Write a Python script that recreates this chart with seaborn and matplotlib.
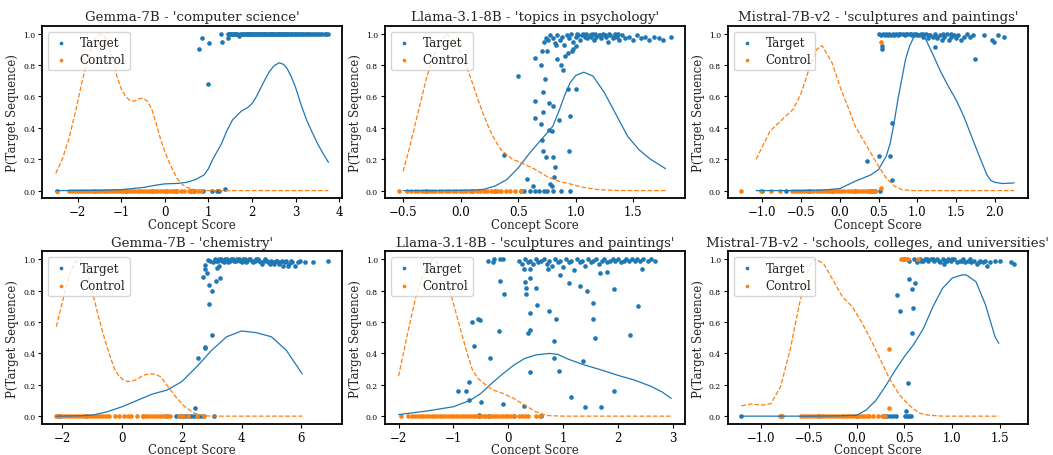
import matplotlib
matplotlib.use("Agg")
import matplotlib.pyplot as plt
import seaborn as sns

titles = [
    "Gemma-7B - 'computer science'",
    "Llama-3.1-8B - 'topics in psychology'",
    "Mistral-7B-v2 - 'sculptures and paintings'",
    "Gemma-7B - 'chemistry'",
    "Llama-3.1-8B - 'sculptures and paintings'",
    "Mistral-7B-v2 - 'schools, colleges, and universities'",
]

# ---- panel 1: Gemma-7B computer science ----
p1_target = [(0.79, 0.90), (0.85, 0.97), (0.99, 0.68), (1.01, 0.94), (1.29, 1.0), (1.32, 0.945),
             (1.37, 0.01), (1.44, 0.97), (1.44, 1.0), (1.47, 1.0), (1.50, 1.0), (1.53, 1.0), (1.55, 1.0),
             (1.58, 1.0), (1.61, 1.0), (1.64, 1.0), (1.66, 1.0), (1.70, 0.985), (1.72, 1.0), (1.76, 1.0),
             (1.79, 1.0), (1.81, 1.0), (1.85, 1.0), (1.88, 1.0), (1.90, 1.0), (1.93, 1.0), (1.95, 1.0),
             (1.98, 1.0), (2.00, 1.0), (2.03, 1.0), (2.05, 1.0), (2.08, 1.0), (2.10, 1.0), (2.13, 1.0),
             (2.15, 1.0), (2.18, 1.0), (2.20, 1.0), (2.23, 1.0), (2.25, 1.0), (2.28, 1.0), (2.30, 1.0),
             (2.33, 1.0), (2.36, 1.0), (2.39, 1.0), (2.41, 1.0), (2.44, 1.0), (2.46, 1.0), (2.49, 1.0),
             (2.51, 1.0), (2.54, 1.0), (2.56, 1.0), (2.59, 1.0), (2.62, 1.0), (2.65, 1.0), (2.67, 1.0),
             (2.70, 1.0), (2.72, 1.0), (2.75, 1.0), (2.78, 1.0), (2.81, 1.0), (2.83, 1.0), (2.86, 1.0),
             (2.89, 1.0), (2.92, 1.0), (2.95, 1.0), (2.98, 1.0), (3.01, 1.0), (3.04, 1.0), (3.07, 1.0),
             (3.10, 1.0), (3.14, 1.0), (3.17, 1.0), (3.21, 1.0), (3.25, 1.0), (3.29, 1.0), (3.33, 1.0),
             (3.38, 1.0), (3.42, 1.0), (3.47, 1.0), (3.52, 1.0), (3.56, 1.0), (3.61, 1.0), (3.66, 1.0),
             (3.70, 1.0), (3.75, 1.0)]
p1_target_floor = [-2.47, -1.6, -0.9, -0.3, 0.02, 0.25, 0.59, 0.67, 0.88, 1.07, 1.20, 1.25]
p1_control = []
p1_control_floor = [-2.47, -2.19, -2.13, -2.06, -1.99, -1.93, -1.86, -1.8, -1.73, -1.67, -1.6,
                    -1.53, -1.47, -1.4, -1.34, -1.27, -1.21, -1.14, -1.08, -1.01, -0.95, -0.88,
                    -0.82, -0.75, -0.69, -0.62, -0.56, -0.49, -0.43, -0.36, -0.3, -0.23, -0.17,
                    -0.1, -0.04, 0.03, 0.09, 0.16, 0.22, 0.29, 0.36, 0.45, 0.55, 0.64, 0.76, 0.82]
p1_target_kde = [(-2.5, 0.0), (-1.5, 0.002), (-1.0, 0.006), (-0.5, 0.02), (-0.2, 0.035), (0.0, 0.043),
                 (0.3, 0.046), (0.5, 0.053), (0.7, 0.07), (0.9, 0.10), (1.0, 0.14), (1.1, 0.20),
                 (1.2, 0.25), (1.3, 0.30), (1.42, 0.38), (1.55, 0.45), (1.75, 0.506), (1.9, 0.53),
                 (2.0, 0.555), (2.1, 0.60), (2.2, 0.655), (2.3, 0.71), (2.4, 0.76), (2.5, 0.795),
                 (2.62, 0.815), (2.72, 0.805), (2.8, 0.78), (2.9, 0.725), (3.0, 0.655), (3.12, 0.55),
                 (3.25, 0.45), (3.38, 0.37), (3.5, 0.30), (3.62, 0.24), (3.75, 0.18)]
p1_control_kde = [(-2.5, 0.11), (-2.35, 0.2), (-2.2, 0.33), (-2.05, 0.5), (-1.9, 0.69), (-1.8, 0.8),
                  (-1.7, 0.9), (-1.6, 0.97), (-1.5, 1.0), (-1.4, 0.99), (-1.3, 0.94), (-1.2, 0.85),
                  (-1.1, 0.73), (-1.0, 0.65), (-0.9, 0.6), (-0.8, 0.575), (-0.7, 0.57), (-0.6, 0.585),
                  (-0.5, 0.59), (-0.4, 0.57), (-0.3, 0.52), (-0.2, 0.43), (-0.1, 0.33), (0.0, 0.25),
                  (0.1, 0.18), (0.2, 0.12), (0.3, 0.07), (0.4, 0.04), (0.5, 0.02), (0.7, 0.005),
                  (1.0, 0.0), (2.0, 0.0), (3.0, 0.0), (3.75, 0.0)]

# ---- panel 2: Llama-3.1-8B topics in psychology ----
p2_target = [(0.38, 0.225), (0.50, 0.73), (0.575, 0.077), (0.627, 0.028), (0.642, 0.847), (0.647, 0.574),
             (0.642, 0.46), (0.70, 0.80), (0.70, 0.425), (0.705, 0.325), (0.714, 0.627), (0.714, 0.50),
             (0.714, 0.255), (0.734, 0.71), (0.743, 0.213), (0.77, 0.56), (0.77, 0.385), (0.78, 0.043),
             (0.79, 0.38), (0.79, 0.032), (0.806, 0.54), (0.806, 0.213), (0.81, 0.087), (0.82, 0.15),
             (0.835, 0.836), (0.858, 0.453), (0.873, 0.80), (0.887, 0.77), (0.907, 0.86), (0.936, 0.645),
             (0.945, 0.25), (0.95, 0.475), (0.965, 0.89), (0.98, 0.90), (1.0, 0.65), (1.0, 0.92),
             (0.705, 0.89), (0.75, 0.89), (0.72, 0.95), (0.74, 0.97), (0.76, 0.96), (0.78, 0.99),
             (0.80, 0.97), (0.82, 0.94), (0.83, 0.93), (0.84, 0.99), (0.86, 0.96), (0.88, 0.98),
             (0.90, 0.93), (0.92, 0.99), (0.93, 0.88), (0.94, 0.97), (0.96, 1.0), (0.98, 0.95),
             (1.00, 0.98), (1.02, 0.99), (1.04, 0.96), (1.06, 1.0), (1.08, 0.98), (1.10, 0.97),
             (1.12, 0.99), (1.14, 1.0), (1.16, 0.96), (1.18, 0.98), (1.20, 0.99), (1.22, 0.97),
             (1.24, 1.0), (1.26, 0.98), (1.28, 0.95), (1.30, 0.99), (1.32, 0.97), (1.34, 1.0),
             (1.36, 0.98), (1.38, 0.96), (1.40, 0.99), (1.43, 0.97), (1.46, 0.98), (1.50, 0.96),
             (1.53, 0.99), (1.57, 0.97), (1.60, 0.98), (1.64, 0.96), (1.68, 0.98), (1.72, 0.97),
             (1.76, 0.96), (1.83, 0.98), (1.01, 1.0), (1.05, 0.99), (1.09, 1.0), (1.13, 0.98),
             (1.17, 1.0), (1.21, 0.99), (1.25, 0.99), (1.29, 1.0), (1.33, 0.98), (1.37, 1.0)]
p2_target_floor = [-0.3, 0.1, 0.3, 0.52, 0.55, 0.6, 0.65, 0.68, 0.72, 0.75, 0.8, 0.87, 0.95]
p2_control = []
p2_control_floor = [-0.54, -0.47, -0.43, -0.4, -0.37, -0.34, -0.31, -0.28, -0.25, -0.22, -0.19, -0.16,
                    -0.13, -0.1, -0.07, -0.04, -0.01, 0.02, 0.05, 0.08, 0.11, 0.14, 0.17, 0.2, 0.23,
                    0.26, 0.29, 0.32, 0.35, 0.39, 0.43, 0.47, 0.52]
p2_target_kde = [(-0.5, 0.0), (-0.2, 0.0), (0.1, 0.003), (0.2, 0.008), (0.3, 0.03), (0.4, 0.07),
                 (0.5, 0.145), (0.6, 0.24), (0.7, 0.325), (0.8, 0.41), (0.85, 0.5), (0.9, 0.6),
                 (0.95, 0.687), (1.0, 0.734), (1.07, 0.755), (1.15, 0.73), (1.25, 0.623), (1.35, 0.485),
                 (1.45, 0.347), (1.55, 0.26), (1.65, 0.2), (1.78, 0.14)]
p2_control_kde = [(-0.5, 0.123), (-0.45, 0.26), (-0.4, 0.41), (-0.35, 0.56), (-0.3, 0.71), (-0.25, 0.83),
                  (-0.2, 0.92), (-0.15, 0.98), (-0.12, 1.0), (-0.05, 0.95), (0.0, 0.88), (0.05, 0.79),
                  (0.1, 0.69), (0.15, 0.58), (0.2, 0.48), (0.25, 0.39), (0.3, 0.32), (0.35, 0.26),
                  (0.45, 0.2), (0.55, 0.17), (0.65, 0.134), (0.75, 0.09), (0.85, 0.06), (0.95, 0.043),
                  (1.05, 0.023), (1.2, 0.006), (1.35, 0.001), (1.5, 0.0), (1.78, 0.0)]

# ---- panel 3: Mistral-7B-v2 sculptures and paintings ----
p3_target = [(0.35, 0.187), (0.50, 0.22), (0.54, 0.90), (0.55, 0.92), (0.65, 0.22), (0.68, 0.43),
             (0.68, 0.07), (1.23, 0.915), (1.75, 0.84), (1.86, 0.99), (1.97, 0.96), (1.99, 0.95),
             (2.04, 0.99), (2.12, 0.98), (0.51, 1.0), (0.53, 0.99), (0.56, 1.0), (0.58, 0.99),
             (0.60, 1.0), (0.63, 1.0), (0.66, 0.99), (0.69, 1.0), (0.72, 1.0), (0.75, 0.99),
             (0.78, 1.0), (0.81, 1.0), (0.84, 0.99), (0.87, 1.0), (0.90, 1.0), (0.93, 0.99),
             (0.96, 1.0), (0.99, 1.0), (1.02, 0.99), (1.05, 1.0), (1.08, 0.98), (1.11, 1.0),
             (1.14, 0.97), (1.17, 0.99), (1.20, 0.98), (1.23, 1.0), (1.26, 0.97), (1.29, 0.99),
             (1.32, 0.96), (1.35, 0.98), (1.38, 1.0), (1.41, 0.96), (1.44, 0.98), (1.47, 0.99),
             (1.50, 0.97), (1.53, 0.99), (1.56, 0.96), (1.60, 0.98), (1.64, 1.0), (1.68, 0.98),
             (1.72, 0.99), (0.62, 0.99), (0.70, 0.99), (0.77, 1.0), (0.85, 1.0), (0.92, 1.0),
             (1.00, 0.99), (1.07, 1.0), (1.15, 0.99), (1.25, 0.98), (1.33, 1.0), (1.43, 1.0)]
p3_target_floor = [-1.0, -0.7, -0.4, -0.1, 0.2, 0.38, 0.42, 0.45, 0.52]
p3_control = [(0.535, 0.947), (0.535, 0.017)]
p3_control_floor = [-1.27, -1.02, -0.89, -0.77, -0.62, -0.58, -0.54, -0.5, -0.46, -0.42, -0.38, -0.34,
                    -0.3, -0.26, -0.22, -0.18, -0.14, -0.1, -0.06, -0.02, 0.02, 0.06, 0.1, 0.14, 0.18,
                    0.22, 0.26, 0.3, 0.34, 0.38, 0.42, 0.45]
p3_target_kde = [(-1.08, 0.0), (-0.5, 0.0), (-0.2, 0.004), (0.0, 0.013), (0.2, 0.06), (0.4, 0.1),
                 (0.5, 0.134), (0.6, 0.22), (0.65, 0.3), (0.7, 0.43), (0.75, 0.58), (0.8, 0.71),
                 (0.85, 0.84), (0.9, 0.92), (0.95, 0.974), (1.03, 1.0), (1.1, 0.974), (1.2, 0.87),
                 (1.3, 0.76), (1.4, 0.666), (1.5, 0.58), (1.6, 0.474), (1.7, 0.347), (1.8, 0.22),
                 (1.9, 0.1), (1.95, 0.065), (2.0, 0.053), (2.1, 0.045), (2.25, 0.049)]
p3_control_kde = [(-1.08, 0.2), (-0.9, 0.38), (-0.75, 0.45), (-0.6, 0.52), (-0.5, 0.62), (-0.4, 0.77),
                  (-0.3, 0.9), (-0.23, 0.925), (-0.1, 0.815), (0.0, 0.666), (0.1, 0.54), (0.2, 0.41),
                  (0.3, 0.325), (0.4, 0.24), (0.5, 0.155), (0.6, 0.08), (0.7, 0.03), (0.8, 0.006),
                  (0.95, 0.0), (1.5, 0.0), (2.25, 0.0)]

# ---- panel 4: Gemma-7B chemistry ----
p4_target = [(2.43, 0.053), (2.55, 0.372), (2.71, 0.885), (2.77, 0.443), (2.77, 0.437), (2.79, 0.964),
             (2.79, 0.94), (2.85, 0.91), (2.87, 0.996), (2.90, 0.836), (2.90, 0.715), (3.01, 0.517),
             (3.02, 0.80), (3.13, 0.86), (3.18, 0.945), (3.24, 0.96), (3.27, 0.88), (5.97, 0.99),
             (6.11, 0.985), (6.41, 0.98), (6.91, 0.99), (2.96, 0.99), (3.05, 0.98), (3.10, 1.0),
             (3.20, 0.99), (3.30, 1.0), (3.40, 0.98), (3.50, 1.0), (3.60, 0.99), (3.70, 1.0),
             (3.80, 0.99), (3.90, 1.0), (4.00, 0.98), (4.10, 1.0), (4.20, 0.99), (4.30, 1.0),
             (4.40, 0.98), (4.50, 1.0), (4.60, 0.99), (4.70, 0.97), (4.80, 1.0), (4.90, 0.98),
             (5.00, 0.99), (5.10, 0.97), (5.20, 0.99), (5.30, 0.98), (5.40, 0.96), (5.50, 0.99),
             (5.60, 0.97), (5.70, 0.98), (5.80, 0.96), (5.90, 0.98), (3.15, 0.99), (3.25, 1.0),
             (3.35, 0.99), (3.45, 1.0), (3.55, 0.98), (3.65, 1.0), (3.75, 0.99), (3.85, 1.0),
             (3.95, 0.99), (4.05, 1.0), (4.15, 0.98), (4.25, 1.0), (4.35, 0.99), (4.45, 0.99),
             (4.55, 1.0), (4.65, 0.98), (4.75, 0.99), (4.85, 0.99), (4.95, 0.97), (5.05, 0.98),
             (5.15, 0.99), (5.25, 0.97), (5.35, 0.99), (5.45, 0.98), (5.55, 0.96), (5.65, 0.99)]
p4_target_floor = [-2.1, -1.2, 0.71, 1.5, 1.8, 1.9, 2.0, 2.1, 2.2, 2.3, 2.4, 2.5, 2.6, 2.7, 3.07]
p4_control = []
p4_control_floor = [-2.22, -2.15, -2.05, -1.95, -1.85, -1.75, -1.65, -1.55, -1.45, -1.35, -1.25, -1.15,
                    -1.05, -0.95, -0.85, -0.75, -0.65, -0.55, -0.44, -0.22, -0.1, 0.05, 0.2, 0.3, 0.5,
                    0.7, 0.8, 0.9, 1.0, 1.1, 1.2, 1.3, 1.4, 1.5, 1.6, 1.9, 2.05, 2.2, 2.5, 2.74]
p4_target_kde = [(-2.2, 0.0), (-1.5, 0.002), (-1.0, 0.006), (-0.5, 0.028), (0.0, 0.06), (0.5, 0.1),
                 (1.0, 0.14), (1.5, 0.166), (2.0, 0.22), (2.5, 0.315), (3.0, 0.42), (3.5, 0.506),
                 (4.0, 0.543), (4.5, 0.532), (5.0, 0.506), (5.5, 0.42), (6.03, 0.27)]
p4_control_kde = [(-2.2, 0.57), (-2.05, 0.69), (-1.9, 0.80), (-1.75, 0.91), (-1.6, 0.975), (-1.4, 1.0),
                  (-1.2, 0.94), (-1.0, 0.80), (-0.85, 0.68), (-0.7, 0.57), (-0.55, 0.47), (-0.4, 0.38),
                  (-0.25, 0.3), (-0.1, 0.255), (0.05, 0.23), (0.2, 0.22), (0.35, 0.225), (0.5, 0.234),
                  (0.7, 0.26), (0.9, 0.27), (1.1, 0.268), (1.3, 0.25), (1.5, 0.198), (1.8, 0.123),
                  (2.1, 0.06), (2.4, 0.02), (2.7, 0.004), (3.0, 0.0), (4.5, 0.0), (6.03, 0.0)]

# ---- panel 5: Llama-3.1-8B sculptures and paintings ----
p5_target = [(-0.925, 0.16), (-0.77, 0.16), (-0.71, 0.22), (-0.71, 0.10), (-0.66, 0.60), (-0.63, 0.45),
             (-0.56, 0.62), (-0.52, 0.61), (-0.50, 0.09), (-0.54, 0.01), (-0.33, 0.37), (-0.17, 0.54),
             (-0.15, 0.86), (-0.07, 0.78), (-0.09, 0.08), (-0.37, 0.99), (-0.28, 0.98), (-0.26, 1.0),
             (-0.15, 1.0), (-0.09, 1.0), (0.28, 0.064), (0.30, 0.857), (0.32, 0.815), (0.32, 0.78),
             (0.36, 0.53), (0.39, 0.55), (0.40, 0.66), (0.40, 0.28), (0.40, 0.88), (0.50, 0.815),
             (0.52, 0.71), (0.28, 0.94), (0.40, 0.94), (0.72, 0.94), (0.75, 0.67), (0.83, 0.37),
             (0.83, 0.48), (0.87, 0.62), (0.92, 0.29), (0.95, 0.90), (1.11, 0.85), (1.14, 0.12),
             (1.30, 0.83), (1.37, 0.35), (1.40, 0.06), (1.44, 0.80), (1.55, 0.72), (1.55, 0.62),
             (1.58, 0.50), (1.68, 0.91), (1.69, 0.06), (1.80, 0.92), (1.92, 0.81), (1.92, 0.16),
             (2.22, 0.52), (2.37, 0.70), (2.43, 0.94), (0.20, 0.99), (0.25, 0.97), (0.30, 1.0),
             (0.35, 0.98), (0.40, 0.99), (0.45, 0.97), (0.50, 1.0), (0.55, 0.98), (0.60, 0.99),
             (0.65, 1.0), (0.70, 0.97), (0.75, 0.99), (0.80, 0.96), (0.85, 1.0), (0.90, 0.98),
             (0.95, 0.99), (1.00, 0.95), (1.05, 1.0), (1.10, 0.98), (1.15, 0.99), (1.20, 0.93),
             (1.25, 1.0), (1.30, 0.98), (1.35, 0.99), (1.40, 0.96), (1.45, 1.0), (1.50, 0.98),
             (1.55, 0.99), (1.60, 1.0), (1.65, 0.97), (1.70, 0.99), (1.75, 1.0), (1.80, 0.98),
             (1.85, 0.99), (1.90, 1.0), (1.95, 0.99), (2.00, 1.0), (2.05, 0.98), (2.10, 0.99),
             (2.15, 1.0), (2.20, 0.99), (2.25, 1.0), (2.30, 0.99), (2.35, 1.0), (2.40, 0.99),
             (2.45, 1.0), (2.55, 0.99), (2.60, 1.0), (2.67, 0.99)]
p5_target_floor = [-0.54, -0.35, 0.1, 0.6]
p5_control = []
p5_control_floor = [-1.95, -1.82, -1.75, -1.7, -1.65, -1.6, -1.55, -1.5, -1.45, -1.4, -1.35, -1.3, -1.25,
                    -1.2, -1.15, -1.1, -1.05, -1.0, -0.95, -0.9, -0.85, -0.8, -0.75, -0.7, -0.65, -0.6,
                    -0.55, -0.5, -0.45, -0.4, -0.35, -0.3, -0.25, -0.2, -0.15, -0.1, -0.05, 0.0, 0.05,
                    0.1, 0.2, 0.25, 0.3, 0.35, 0.5, 0.57]
p5_target_kde = [(-2.0, 0.01), (-1.5, 0.032), (-1.0, 0.06), (-0.7, 0.10), (-0.5, 0.145), (-0.3, 0.21),
                 (-0.1, 0.27), (0.1, 0.325), (0.3, 0.368), (0.5, 0.39), (0.75, 0.40), (0.9, 0.394),
                 (1.1, 0.362), (1.4, 0.325), (1.7, 0.294), (2.0, 0.26), (2.3, 0.23), (2.6, 0.19),
                 (2.8, 0.155), (2.97, 0.113)]
p5_control_kde = [(-2.0, 0.255), (-1.85, 0.506), (-1.7, 0.74), (-1.55, 0.91), (-1.4, 0.996), (-1.35, 1.0),
                  (-1.2, 0.93), (-1.05, 0.78), (-0.9, 0.59), (-0.75, 0.40), (-0.65, 0.29), (-0.55, 0.24),
                  (-0.45, 0.21), (-0.3, 0.17), (-0.1, 0.145), (0.1, 0.113), (0.3, 0.07), (0.5, 0.028),
                  (0.7, 0.004), (1.0, 0.0), (2.0, 0.0), (2.97, 0.0)]

# ---- panel 6: Mistral-7B-v2 schools, colleges, and universities ----
p6_target = [(0.42, 0.77), (0.457, 0.67), (0.534, 0.21), (0.517, 0.03), (0.545, 0.876), (0.576, 0.81),
             (0.58, 0.53), (0.587, 0.687), (0.614, 0.85), (0.92, 0.97), (1.37, 0.96), (1.62, 0.98),
             (1.65, 0.97), (0.50, 1.0), (0.55, 0.99), (0.60, 1.0), (0.63, 0.98), (0.66, 1.0),
             (0.69, 0.99), (0.72, 1.0), (0.75, 0.99), (0.78, 1.0), (0.81, 0.99), (0.84, 1.0),
             (0.87, 0.98), (0.90, 1.0), (0.93, 0.99), (0.96, 1.0), (0.99, 0.99), (1.02, 1.0),
             (1.05, 0.98), (1.08, 0.99), (1.11, 1.0), (1.14, 0.98), (1.17, 0.99), (1.20, 0.98),
             (1.23, 0.99), (1.26, 0.97), (1.29, 0.99), (1.32, 0.98), (1.35, 0.99), (1.40, 0.98),
             (1.45, 0.99), (1.50, 0.99), (0.67, 0.99), (0.74, 1.0), (0.80, 1.0), (0.86, 0.99),
             (0.95, 0.99), (1.00, 1.0), (1.10, 0.99), (1.19, 1.0), (1.28, 0.98)]
p6_target_floor = [-1.21, -0.8, -0.4, 0.0, 0.29, 0.32, 0.35, 0.38, 0.41, 0.51, 0.53, 0.55, 0.57]
p6_control = [(0.342, 0.43), (0.342, 0.053), (0.465, 1.0), (0.49, 1.0), (0.517, 1.0), (0.535, 1.0),
              (0.64, 1.0)]
p6_control_floor = [-0.81, -0.78, -0.58, -0.55, -0.52, -0.49, -0.46, -0.43, -0.4, -0.37, -0.34, -0.31,
                    -0.28, -0.25, -0.22, -0.19, -0.16, -0.13, -0.1, -0.07, -0.04, -0.01, 0.02, 0.05,
                    0.08, 0.11, 0.13, 0.17, 0.22, 0.26, 0.3]
p6_target_kde = [(-1.21, 0.0), (-0.5, 0.0), (-0.2, 0.002), (0.0, 0.006), (0.1, 0.04), (0.2, 0.1),
                 (0.3, 0.19), (0.4, 0.29), (0.5, 0.38), (0.6, 0.46), (0.7, 0.56), (0.8, 0.70),
                 (0.9, 0.815), (1.0, 0.88), (1.1, 0.90), (1.15, 0.90), (1.25, 0.857), (1.35, 0.71),
                 (1.45, 0.506), (1.49, 0.464)]
p6_control_kde = [(-1.21, 0.066), (-1.1, 0.078), (-1.0, 0.07), (-0.9, 0.08), (-0.8, 0.187), (-0.7, 0.42),
                  (-0.6, 0.72), (-0.5, 0.953), (-0.44, 1.0), (-0.35, 0.975), (-0.25, 0.868), (-0.15, 0.76),
                  (-0.05, 0.70), (0.05, 0.60), (0.15, 0.485), (0.25, 0.357), (0.35, 0.23), (0.45, 0.134),
                  (0.55, 0.07), (0.65, 0.02), (0.75, 0.006), (0.9, 0.0), (1.49, 0.0)]

panels = [
    (p1_target, p1_target_floor, p1_control, p1_control_floor, p1_target_kde, p1_control_kde),
    (p2_target, p2_target_floor, p2_control, p2_control_floor, p2_target_kde, p2_control_kde),
    (p3_target, p3_target_floor, p3_control, p3_control_floor, p3_target_kde, p3_control_kde),
    (p4_target, p4_target_floor, p4_control, p4_control_floor, p4_target_kde, p4_control_kde),
    (p5_target, p5_target_floor, p5_control, p5_control_floor, p5_target_kde, p5_control_kde),
    (p6_target, p6_target_floor, p6_control, p6_control_floor, p6_target_kde, p6_control_kde),
]

blue = '#1f77b4'
orange = '#ff7f0e'

sns.set_style("ticks")
plt.rcParams['font.family'] = ['DejaVu Serif']
plt.rcParams['axes.edgecolor'] = 'black'
plt.rcParams['axes.linewidth'] = 1.3
plt.rcParams['xtick.color'] = 'black'
plt.rcParams['ytick.color'] = 'black'
plt.rcParams['xtick.major.size'] = 3
plt.rcParams['ytick.major.size'] = 3

fig, axes = plt.subplots(2, 3, figsize=(10.53, 4.56), dpi=100)
fig.subplots_adjust(left=0.040, right=0.976, top=0.941, bottom=0.068, wspace=0.143, hspace=0.307)

for ax, title, (t_pts, t_floor, c_pts, c_floor, t_kde, c_kde) in zip(axes.flat, titles, panels):
    tx = [p[0] for p in t_pts] + t_floor
    ty = [p[1] for p in t_pts] + [0.0] * len(t_floor)
    cx = c_floor + [p[0] for p in c_pts]
    cy = [0.0] * len(c_floor) + [p[1] for p in c_pts]

    sns.scatterplot(x=tx, y=ty, color=blue, s=11, linewidth=0, label='Target', ax=ax)
    sns.scatterplot(x=cx, y=cy, color=orange, s=11, linewidth=0, label='Control', ax=ax)
    sns.lineplot(x=[p[0] for p in t_kde], y=[p[1] for p in t_kde], color=blue,
                 linewidth=0.9, label='_nolegend_', ax=ax)
    sns.lineplot(x=[p[0] for p in c_kde], y=[p[1] for p in c_kde], color=orange,
                 linewidth=0.9, linestyle='--', label='_nolegend_', ax=ax)

    ax.set_title(title, fontsize=9.6, pad=4)
    ax.set_xlabel('Concept Score', fontsize=8.5, labelpad=-0.5)
    ax.set_ylabel('P(Target Sequence)', fontsize=8.5, labelpad=3)
    ax.tick_params(axis='x', labelsize=8.5, pad=2)
    ax.tick_params(axis='y', labelsize=5.5, pad=2)
    ax.legend(loc='upper left', fontsize=8.6, borderpad=0.35, labelspacing=0.35,
              handlelength=1.5, handletextpad=0.8, markerscale=0.8)

plt.savefig('out.png', dpi=100)
